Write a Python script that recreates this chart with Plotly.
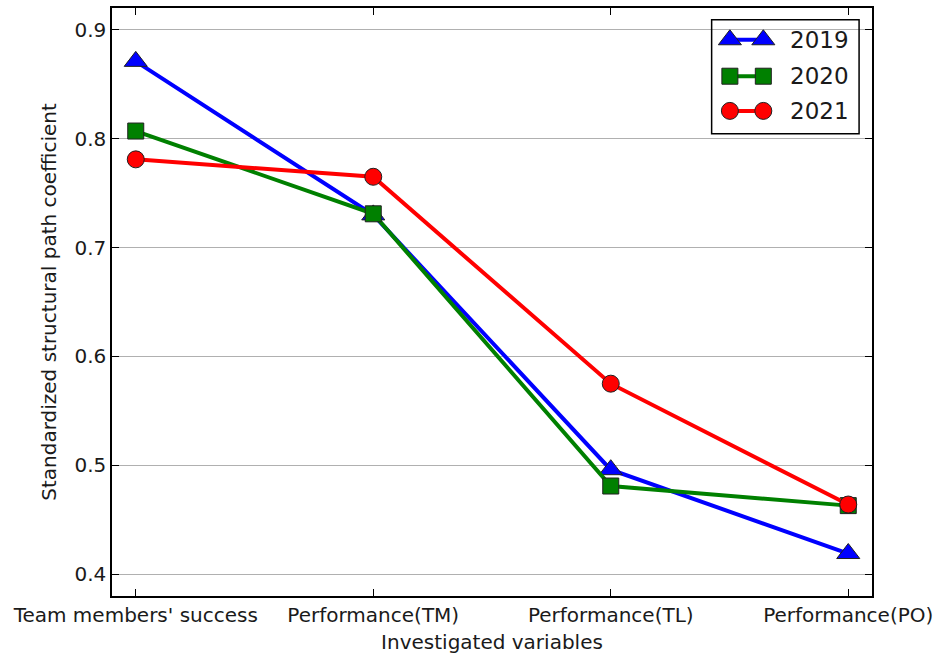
import plotly.graph_objects as go

# Investigated variables on the x axis
categories = ["Team members' success", "Performance(TM)", "Performance(TL)", "Performance(PO)"]

# Standardized structural path coefficients per year
years = ["2019", "2020", "2021"]
values_2019 = [0.871, 0.730, 0.496, 0.419]
values_2020 = [0.807, 0.731, 0.481, 0.463]
values_2021 = [0.781, 0.765, 0.575, 0.464]

y_ticks = [0.4, 0.5, 0.6, 0.7, 0.8, 0.9]

series = [
    (years[0], values_2019, "#0000ff", "triangle-up", 20),
    (years[1], values_2020, "#008000", "square", 16),
    (years[2], values_2021, "#ff0000", "circle", 17),
]

FONT = "DejaVu Sans"
TXT = "#1a1a1a"
fig = go.Figure()

x_idx = list(range(len(categories)))
for name, vals, color, symbol, size in series:
    fig.add_trace(go.Scatter(
        x=x_idx, y=vals, name=name, mode="lines+markers",
        line=dict(color=color, width=4),
        marker=dict(symbol=symbol, size=size, color=color,
                    line=dict(color="#202020", width=1)),
        showlegend=False,
    ))

# Legend box drawn on an overlay axis spanning the plot area (0..1)
leg_rows = [0.946, 0.884, 0.825]
for (name, vals, color, symbol, size), ry in zip(series, leg_rows):
    fig.add_trace(go.Scatter(
        x=[0.813, 0.857], y=[ry, ry], xaxis="x2", yaxis="y2",
        mode="lines+markers", hoverinfo="skip",
        line=dict(color=color, width=4),
        marker=dict(symbol=symbol, size=size, color=color,
                    line=dict(color="#202020", width=1)),
        showlegend=False,
    ))
    fig.add_annotation(x=0.889, y=ry, xref="x2", yref="y2", text=name,
                       showarrow=False, xanchor="left", yanchor="middle",
                       font=dict(family=FONT, size=23, color=TXT))

fig.add_shape(type="rect", xref="x2", yref="y2", x0=0.789, x1=0.983,
              y0=0.786, y1=0.980, line=dict(color="black", width=1.5),
              fillcolor="rgba(0,0,0,0)", layer="above")

fig.update_layout(
    width=935, height=657,
    margin=dict(l=112, r=63, t=8, b=61),
    paper_bgcolor="white", plot_bgcolor="white",
    font=dict(family=FONT, size=20, color=TXT),
    xaxis=dict(
        range=[-0.1, 3.1], tickmode="array", tickvals=x_idx, ticktext=categories,
        showgrid=False, zeroline=False, automargin=False,
        showline=True, linecolor="black", linewidth=1.5, mirror="ticks",
        ticks="inside", ticklen=7, tickcolor="black", tickwidth=1,
        tickfont=dict(family=FONT, size=20, color=TXT),
        title=dict(text="Investigated variables", standoff=9,
                   font=dict(family=FONT, size=20, color=TXT)),
    ),
    yaxis=dict(
        range=[0.38, 0.92], tickmode="array", tickvals=y_ticks,
        ticktext=[f"{v:.1f}" for v in y_ticks],
        showgrid=True, gridcolor="#b0b0b0", gridwidth=1, zeroline=False,
        automargin=False,
        showline=True, linecolor="black", linewidth=1.5, mirror="ticks",
        ticks="inside", ticklen=7, tickcolor="black", tickwidth=1,
        tickfont=dict(family=FONT, size=20, color=TXT),
        title=dict(text="Standardized structural path coefficient", standoff=12,
                   font=dict(family=FONT, size=20, color=TXT)),
    ),
    xaxis2=dict(overlaying="x", range=[0, 1], visible=False, fixedrange=True),
    yaxis2=dict(overlaying="y", range=[0, 1], visible=False, fixedrange=True),
)

fig.write_html("out.html")
